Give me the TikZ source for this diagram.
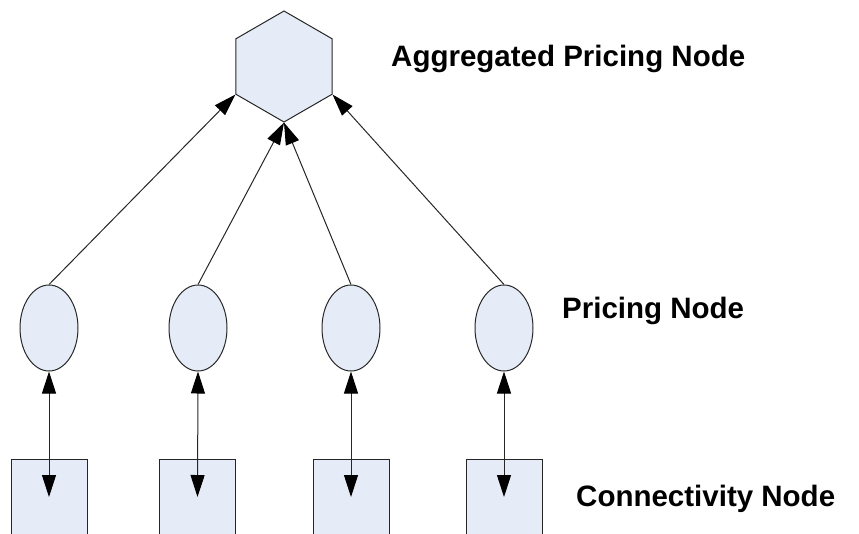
\documentclass[tikz,border=0pt]{standalone}
\usepackage{fontspec}
\setmainfont{Liberation Sans}
\usepackage{tikz}
\usetikzlibrary{shapes.geometric,arrows.meta}
\definecolor{nodefill}{HTML}{E6ECF7}
\newcommand{\nodecolor}{nodefill}
\newcommand{\edgecolor}{black!85}
\newcommand{\thickness}{1pt}
\tikzset{
  hexnode/.style={draw=\edgecolor, fill=\nodecolor, line width=\thickness, regular polygon, regular polygon sides=6, shape border rotate=30, minimum size=111pt, inner sep=0pt},
  pricenode/.style={draw=\edgecolor, fill=\nodecolor, line width=\thickness, ellipse, minimum width=58pt, minimum height=86pt, inner sep=0pt},
  connnode/.style={draw=\edgecolor, fill=\nodecolor, line width=\thickness, rectangle, minimum width=76pt, minimum height=76pt, inner sep=0pt},
  label/.style={anchor=base west, inner sep=0pt, font=\fontsize{29.5}{34}\selectfont\bfseries},
  tip/.style={Triangle[length=22pt,width=14pt,color=black,fill=black]},
  link/.style={draw=\edgecolor, line width=\thickness, -{Triangle[length=22pt,width=14pt,color=black,fill=black]}},
  dlink/.style={draw=\edgecolor, line width=\thickness, {Triangle[length=22pt,width=14pt,color=black,fill=black]}-{Triangle[length=22pt,width=14pt,color=black,fill=black]}}
}

\begin{document}
\begin{tikzpicture}[x=1pt, y=-1pt]
\useasboundingbox (0,0) rectangle (859,533);
\clip (0,0) rectangle (859,533);
%aggregated
\node[hexnode] (hex) at (284, 66.5) {};
%pricing
\node[pricenode] (p1) at (49, 328) {};
\node[pricenode] (p2) at (198, 328) {};
\node[pricenode] (p3) at (351, 328) {};
\node[pricenode] (p4) at (504, 328) {};
%connectivity
\node[connnode] (c1) at (49, 497) {};
\node[connnode] (c2) at (197.5, 497) {};
\node[connnode] (c3) at (351, 497) {};
\node[connnode] (c4) at (504, 497) {};
%labels
\node[label] (aggtext) at (391, 66) {Aggregated Pricing Node};
\node[label] (pricetext) at (562, 318) {Pricing Node};
\node[label] (conntext) at (576, 506) {Connectivity Node};
%up links
\draw[link] (p1.north) -- (hex.210);
\draw[link] (p2.north) -- (hex.270);
\draw[link] (p3.north) -- (hex.270);
\draw[link] (p4.north) -- (hex.330);
%down links
\draw[dlink] (p1.south) -- (c1.center);
\draw[dlink] (p2.south) -- (c2.center);
\draw[dlink] (p3.south) -- (c3.center);
\draw[dlink] (p4.south) -- (c4.center);
\end{tikzpicture}
\end{document}
